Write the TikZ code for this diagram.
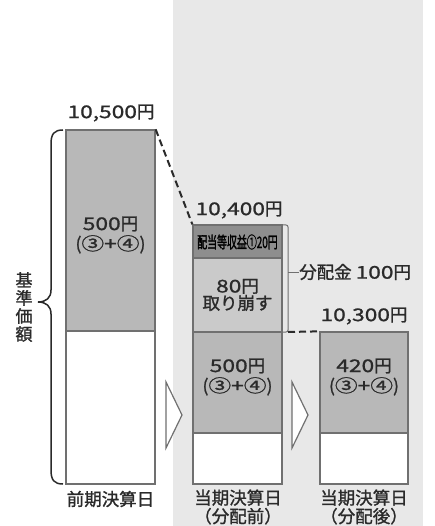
\documentclass[tikz,border=0pt]{standalone}
\usepackage{fontspec}
\usepackage{graphicx}
\setmainfont{Noto Sans CJK JP}[FakeBold=1.2,AutoFakeBold=1.2]
\newfontfamily\jpw[FakeStretch=1.3,FakeBold=1.2]{Noto Sans CJK JP}
\newfontfamily\jpb[FakeBold=2]{Noto Sans CJK JP}
\definecolor{panel}{HTML}{E8E8E8}
\definecolor{midg}{HTML}{B8B8B8}
\definecolor{darkg}{HTML}{8E8E8E}
\definecolor{lightg}{HTML}{CACACA}
\definecolor{edge}{HTML}{707070}
\definecolor{ink}{HTML}{2A2A2A}
\begin{document}
\begin{tikzpicture}[x=1pt,y=-1pt,
  seg/.style={draw=edge, line width=1.3pt, inner sep=0pt, minimum width=89pt},
  lbl/.style={text=ink, inner sep=0pt, align=center, font=\fontsize{17.5}{20}\selectfont},
  chev/.style={draw=edge, fill=white, line width=1.2pt, line join=miter},
  dashline/.style={draw=ink, line width=2pt, dash pattern=on 7pt off 4pt},
  thin/.style={draw=edge, line width=1pt, rounded corners=2pt}
  ]
\useasboundingbox (0,0) rectangle (434,526);
\fill[white] (0,0) rectangle (434,526);
\fill[panel] (173,0) rectangle (423,526);

% column 1
\node[seg, fill=midg, minimum height=201pt] (c1g) at (110.5,230.5) {};
\node[seg, fill=white, minimum height=153pt] (c1w) at (110.5,407.5) {};
% column 2
\node[seg, fill=darkg, minimum height=33pt] (c2d) at (237.5,241.5) {};
\node[seg, fill=lightg, minimum height=74pt] (c2l) at (237.5,295) {};
\node[seg, fill=midg, minimum height=101pt] (c2g) at (237.5,382.5) {};
\node[seg, fill=white, minimum height=51pt] (c2w) at (237.5,458.5) {};
% column 3
\node[seg, fill=midg, minimum height=101pt, minimum width=88pt] (c3g) at (364,382.5) {};
\node[seg, fill=white, minimum height=51pt, minimum width=88pt] (c3w) at (364,458.5) {};

% values
\node[lbl] (v1) at (110.5,235) {{\jpw 500}円\\({\jpw ③+④})};
\node[lbl] (v2) at (237.5,377) {{\jpw 500}円\\({\jpw ③+④})};
\node[lbl] (v3) at (364,377) {{\jpw 420}円\\({\jpw ③+④})};
\node[lbl, font=\fontsize{17.5}{16}\selectfont] (v4) at (237.5,295) {{\jpw 80}円\\取り崩す};
\node[lbl, text=black, font=\fontsize{16}{16}\selectfont] (v5) at (237.5,242) {\scalebox{0.62}[1]{\jpb 配当等収益①20円}};

% heights
\node[lbl] (h1) at (111,113) {{\jpw 10,500}円};
\node[lbl] (h2) at (239,210) {{\jpw 10,400}円};
\node[lbl] (h3) at (364,316) {{\jpw 10,300}円};

% dates
\node[lbl] (d1) at (110.5,499) {前期決算日};
\node[lbl, font=\fontsize{17.5}{18.5}\selectfont] (d2) at (238,507) {当期決算日\\（分配前）};
\node[lbl, font=\fontsize{17.5}{18.5}\selectfont] (d3) at (364,507) {当期決算日\\（分配後）};

% brace and vertical label
\draw[ink, line width=1.5pt] (63,130) .. controls (54,130) and (51,134) .. (51,144) -- (51,290)
  .. controls (51,298) and (46,302) .. (38,302) .. controls (46,302) and (51,306) .. (51,314)
  -- (51,470) .. controls (51,480) and (54,484) .. (63,484);
\node[lbl, font=\fontsize{17}{18}\selectfont] (kj) at (24,307) {基\\準\\価\\額};

% bracket for distribution
\draw[thin] (283,225) -- (288,225) -- (288,332) -- (283,332);
\coordinate (bb) at (288,332);
\coordinate (bt) at (288,272);
\node[lbl, anchor=west] (dist) at (299,272) {分配金 {\jpw 100}円};
\draw[edge, line width=1pt] (bt) -- (dist.west);

% dashed connectors
\draw[dashline] (c1g.north east) -- (c2d.north west);
\draw[dashline] (bb) -- (c3g.north west);

% chevrons
\draw[chev] (166,382) -- (182,415) -- (166,448) -- cycle;
\draw[chev] (292,382) -- (308,415) -- (292,448) -- cycle;
\end{tikzpicture}
\end{document}
